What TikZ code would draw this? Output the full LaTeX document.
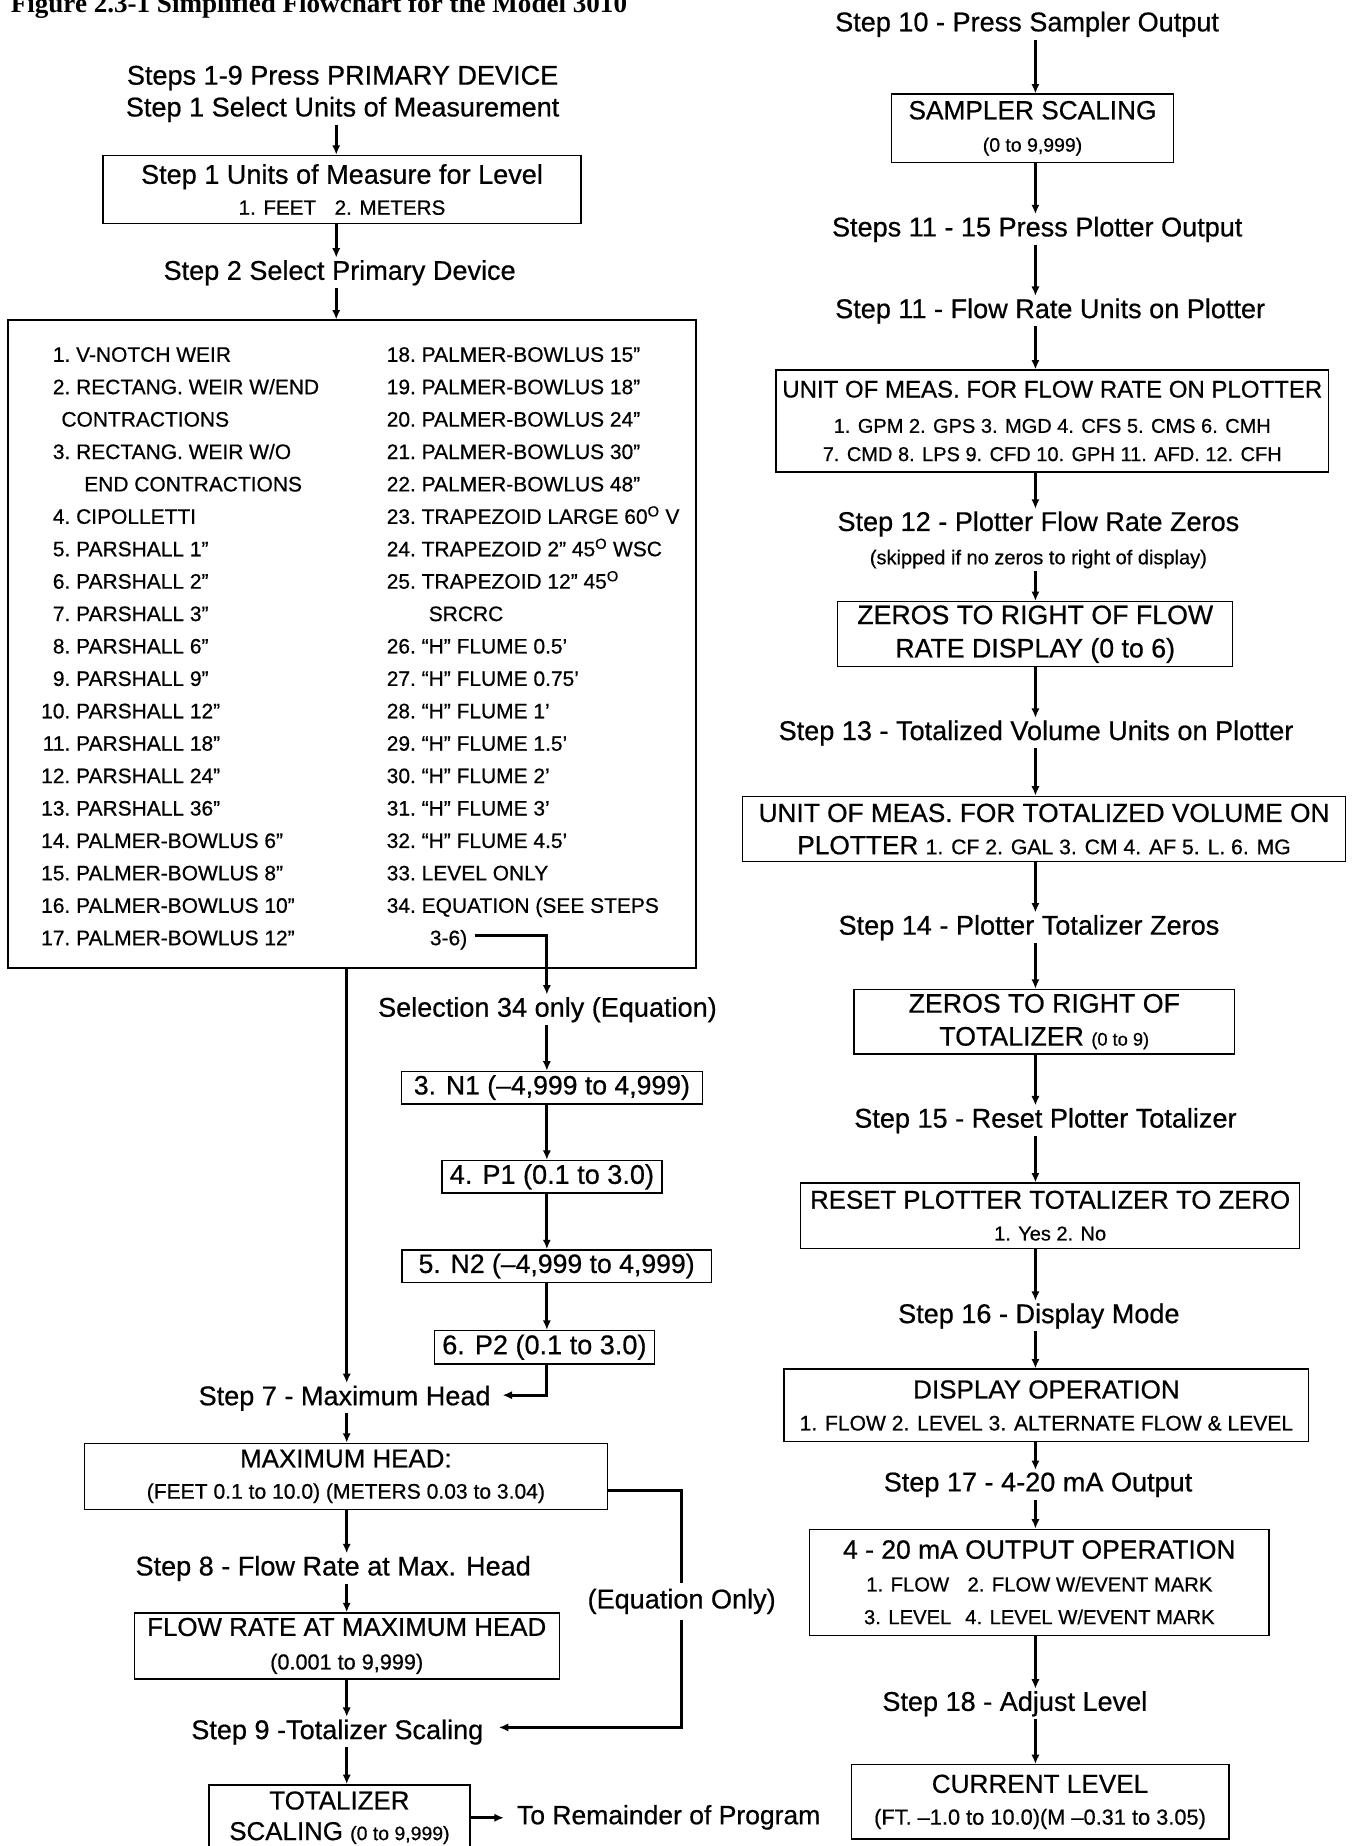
\documentclass[tikz,border=0pt]{standalone}
\usepackage{fontspec}
\setmainfont{Liberation Sans}[FakeBold=0.6]
\newfontfamily\titlefont{Liberation Serif}
\usetikzlibrary{arrows.meta}
\newcommand\myfs[2]{\fontsize{#1}{#2}\selectfont}
\newcommand\lstitem[4]{\node[itm] (#1) at (#2,{307.3+27.53*#3}) {#4};}
\tikzset{
  lbl/.style={inner sep=2pt, anchor=base, font=\myfs{23}{27}},
  bx/.style={draw, line width=1.2pt, inner sep=0pt, align=center},
  arr/.style={line width=2.6pt, -{Latex[length=8pt,width=7pt]}},
  ln/.style={line width=2.6pt},
  itm/.style={inner sep=0pt, anchor=base west, font=\myfs{17.8}{20}},
}
\begin{document}
\begin{tikzpicture}[x=1pt,y=-1pt]
\useasboundingbox (0,0) rectangle (1148,1568);
\coordinate (colL1) at (285.6,0);
\coordinate (colL2) at (294.5,0);
\coordinate (colE) at (464.5,0);
\coordinate (colR) at (879.5,0);

% ---------- title ----------
\node[anchor=base west, inner sep=0pt, font=\titlefont\bfseries\myfs{23}{27}] (title) at (9,11) {Figure 2.3-1 Simplified Flowchart for the Model 3010};

% ---------- left column ----------
\node[lbl] (s1a) at (291,71.9) {Steps 1-9 Press PRIMARY DEVICE};
\node[lbl] (s1b) at (291,98.9) {Step 1 Select Units of Measurement};
\node[bx, minimum width=406pt, minimum height=58pt, font=\myfs{17.5}{26.3}] (b1) at (290.5,161)
  {{\myfs{23}{26.3}Step 1 Units of Measure for Level}\\1. FEET\hspace{0.9em}2. METERS};
\node[lbl] (s2) at (288.5,237.7) {Step 2 Select Primary Device};
\node[draw, line width=1.3pt, minimum width=584pt, minimum height=550pt, inner sep=0pt] (bb) at (299,547) {};

\lstitem{L1}{64.5}{0}{\llap{1.\ }V-NOTCH WEIR}
\lstitem{L2}{64.5}{1}{\llap{2.\ }RECTANG. WEIR W/END}
\lstitem{L2b}{52}{2}{CONTRACTIONS}
\lstitem{L3}{64.5}{3}{\llap{3.\ }RECTANG. WEIR W/O}
\lstitem{L3b}{71.4}{4}{END CONTRACTIONS}
\lstitem{L4}{64.5}{5}{\llap{4.\ }CIPOLLETTI}
\lstitem{L5}{64.5}{6}{\llap{5.\ }PARSHALL 1''}
\lstitem{L6}{64.5}{7}{\llap{6.\ }PARSHALL 2''}
\lstitem{L7}{64.5}{8}{\llap{7.\ }PARSHALL 3''}
\lstitem{L8}{64.5}{9}{\llap{8.\ }PARSHALL 6''}
\lstitem{L9}{64.5}{10}{\llap{9.\ }PARSHALL 9''}
\lstitem{L10}{64.5}{11}{\llap{10.\ }PARSHALL 12''}
\lstitem{L11}{64.5}{12}{\llap{11.\ }PARSHALL 18''}
\lstitem{L12}{64.5}{13}{\llap{12.\ }PARSHALL 24''}
\lstitem{L13}{64.5}{14}{\llap{13.\ }PARSHALL 36''}
\lstitem{L14}{64.5}{15}{\llap{14.\ }PALMER-BOWLUS 6''}
\lstitem{L15}{64.5}{16}{\llap{15.\ }PALMER-BOWLUS 8''}
\lstitem{L16}{64.5}{17}{\llap{16.\ }PALMER-BOWLUS 10''}
\lstitem{L17}{64.5}{18}{\llap{17.\ }PALMER-BOWLUS 12''}
\lstitem{L18}{358}{0}{\llap{18.\ }PALMER-BOWLUS 15''}
\lstitem{L19}{358}{1}{\llap{19.\ }PALMER-BOWLUS 18''}
\lstitem{L20}{358}{2}{\llap{20.\ }PALMER-BOWLUS 24''}
\lstitem{L21}{358}{3}{\llap{21.\ }PALMER-BOWLUS 30''}
\lstitem{L22}{358}{4}{\llap{22.\ }PALMER-BOWLUS 48''}
\lstitem{L23}{358}{5}{\llap{23.\ }TRAPEZOID LARGE 60\textsuperscript{O} V}
\lstitem{L24}{358}{6}{\llap{24.\ }TRAPEZOID 2'' 45\textsuperscript{O} WSC}
\lstitem{L25}{358}{7}{\llap{25.\ }TRAPEZOID 12'' 45\textsuperscript{O}}
\lstitem{L25b}{364}{8}{SRCRC}
\lstitem{L26}{358}{9}{\llap{26.\ }``H'' FLUME 0.5'}
\lstitem{L27}{358}{10}{\llap{27.\ }``H'' FLUME 0.75'}
\lstitem{L28}{358}{11}{\llap{28.\ }``H'' FLUME 1'}
\lstitem{L29}{358}{12}{\llap{29.\ }``H'' FLUME 1.5'}
\lstitem{L30}{358}{13}{\llap{30.\ }``H'' FLUME 2'}
\lstitem{L31}{358}{14}{\llap{31.\ }``H'' FLUME 3'}
\lstitem{L32}{358}{15}{\llap{32.\ }``H'' FLUME 4.5'}
\lstitem{L33}{358}{16}{\llap{33.\ }LEVEL ONLY}
\lstitem{L34}{358}{17}{\llap{34.\ }EQUATION (SEE STEPS}
\lstitem{L36}{365}{18}{3-6)}

\node[lbl] (sel) at (465,863.6) {Selection 34 only (Equation)};
\node[bx, minimum width=256pt, minimum height=27.6pt, font=\myfs{22.6}{26}] (n1) at (468.8,923.8) {3. N1 (--4,999 to 4,999)};
\node[bx, minimum width=187pt, minimum height=27.8pt, font=\myfs{23}{26}] (p1) at (468.8,999.6) {4. P1 (0.1 to 3.0)};
\node[bx, minimum width=263pt, minimum height=27.5pt, font=\myfs{22.6}{26}] (n2) at (472.8,1075.4) {5. N2 (--4,999 to 4,999)};
\node[bx, minimum width=186.8pt, minimum height=28.3pt, font=\myfs{23}{26}] (p2) at (462.4,1144.3) {6. P2 (0.1 to 3.0)};

\node[lbl] (s7) at (292.7,1193.6) {Step 7 - Maximum Head};
\node[bx, minimum width=444.5pt, minimum height=56pt, font=\myfs{17.9}{26.5}] (maxhead) at (293.8,1254)
  {{\myfs{22}{26.5}MAXIMUM HEAD:}\\(FEET 0.1 to 10.0) (METERS 0.03 to 3.04)};
\node[lbl] (s8) at (283,1338.2) {Step 8 - Flow Rate at Max. Head};
\node[bx, minimum width=361pt, minimum height=56pt, font=\myfs{18.4}{28.5}] (flowrate) at (294.5,1398)
  {{\myfs{22}{28.5}FLOW RATE AT MAXIMUM HEAD}\\(0.001 to 9,999)};
\node[lbl] (s9) at (286.5,1477.2) {Step 9 -Totalizer Scaling};
\node[bx, minimum width=221.5pt, minimum height=56pt, font=\myfs{22}{26}] (tot) at (288.3,1544)
  {TOTALIZER\\SCALING {\myfs{16.5}{26}(0 to 9,999)}};
\node[lbl, anchor=base west, inner xsep=11pt, font=\myfs{22.5}{27}] (rem) at (428,1549.5) {To Remainder of Program};
\node[lbl, inner ysep=5pt] (eq) at (579,1366.2) {(Equation Only)};

% left connectors
\draw[arr] (s1b.south -| colL1) -- (b1.north -| colL1);
\draw[arr] (b1.south -| colL1) -- (s2.north -| colL1);
\draw[arr] (s2.south -| colL1) -- (bb.north -| colL1);
\draw[arr] ([xshift=6pt,yshift=4pt]L36.east) -| (sel.north -| colE);
\draw[arr] (sel.south -| colE) -- (n1.north -| colE);
\draw[arr] (n1.south -| colE) -- (p1.north -| colE);
\draw[arr] (p1.south -| colE) -- (n2.north -| colE);
\draw[arr] (n2.south -| colE) -- (p2.north -| colE);
\draw[arr] (p2.south -| colE) |- ([xshift=8pt,yshift=2.6pt]s7.east);
\draw[arr] (bb.south -| colL2) -- (s7.north -| colL2);
\draw[arr] (s7.south -| colL2) -- (maxhead.north -| colL2);
\draw[arr] (maxhead.south -| colL2) -- (s8.north -| colL2);
\draw[arr] (s8.south -| colL2) -- (flowrate.north -| colL2);
\draw[arr] (flowrate.south -| colL2) -- (s9.north -| colL2);
\draw[arr] (s9.south -| colL2) -- (tot.north -| colL2);
\draw[arr] (tot.east) -- (tot.east -| rem.west);
\draw[ln] ([yshift=-12pt]maxhead.east) -| (eq.north);
\draw[arr] (eq.south) |- ([xshift=11pt,yshift=4pt]s9.east);

% ---------- right column ----------
\node[lbl] (s10) at (872.4,26.6) {Step 10 - Press Sampler Output};
\node[bx, minimum width=240pt, minimum height=58pt, font=\myfs{16.5}{27.5}] (sampler) at (877,109)
  {{\myfs{22.3}{27.5}SAMPLER SCALING}\\(0 to 9,999)};
\node[lbl] (s11a) at (881,200.8) {Steps 11 - 15 Press Plotter Output};
\node[lbl] (s11b) at (892,270.2) {Step 11 - Flow Rate Units on Plotter};
\node[bx, minimum width=469.6pt, minimum height=86.4pt, font=\myfs{17}{24}] (unitflow) at (893.8,357.6)
  {{\myfs{20.4}{24}UNIT OF MEAS. FOR FLOW RATE ON PLOTTER}\\[6pt]1. GPM 2. GPS 3. MGD 4. CFS 5. CMS 6. CMH\\7. CMD 8. LPS 9. CFD 10. GPH 11. AFD. 12. CFH};
\node[lbl] (s12a) at (882,451) {Step 12 - Plotter Flow Rate Zeros};
\node[lbl, font=\myfs{17}{20}] (s12b) at (882,479.3) {(skipped if no zeros to right of display)};
\node[bx, minimum width=335.5pt, minimum height=55.3pt, font=\myfs{22.7}{28.3}] (zflow) at (879.3,538.7)
  {ZEROS TO RIGHT OF FLOW\\RATE DISPLAY (0 to 6)};
\node[lbl] (s13) at (880,628.6) {Step 13 - Totalized Volume Units on Plotter};
\node[bx, minimum width=512.4pt, minimum height=55.6pt, font=\myfs{22.3}{27.4}] (uvol) at (886.8,704.2)
  {UNIT OF MEAS. FOR TOTALIZED VOLUME ON\\PLOTTER {\myfs{18}{27.4}1. CF 2. GAL 3. CM 4. AF 5. L. 6. MG}};
\node[lbl] (s14) at (874,793.9) {Step 14 - Plotter Totalizer Zeros};
\node[bx, minimum width=323pt, minimum height=54.7pt, font=\myfs{22.7}{28}] (ztot) at (887,867.8)
  {ZEROS TO RIGHT OF\\TOTALIZER {\myfs{15.5}{28}(0 to 9)}};
\node[lbl] (s15) at (888,957.8) {Step 15 - Reset Plotter Totalizer};
\node[bx, minimum width=424pt, minimum height=55.3pt, font=\myfs{17}{27}] (reset) at (892,1032.6)
  {{\myfs{21.9}{27}RESET PLOTTER TOTALIZER TO ZERO}\\1. Yes 2. No};
\node[lbl] (s16) at (882.4,1123.8) {Step 16 - Display Mode};
\node[bx, minimum width=445.5pt, minimum height=61.7pt, font=\myfs{17.9}{27.2}] (display) at (888.8,1193.8)
  {{\myfs{22.1}{27.2}DISPLAY OPERATION}\\1. FLOW 2. LEVEL 3. ALTERNATE FLOW \& LEVEL};
\node[lbl] (s17) at (881.7,1266.8) {Step 17 - 4-20 mA Output};
\node[bx, minimum width=390pt, minimum height=90pt, font=\myfs{17.2}{27.8}] (output) at (882.8,1344)
  {{\myfs{22.5}{27.8}4 - 20 mA OUTPUT OPERATION}\\\makebox[86pt][l]{1. FLOW}2. FLOW W/EVENT MARK\\\makebox[86pt][l]{3. LEVEL}4. LEVEL W/EVENT MARK};
\node[lbl] (s18) at (862,1453.2) {Step 18 - Adjust Level};
\node[bx, minimum width=320.7pt, minimum height=63pt, font=\myfs{18.5}{27}] (current) at (883.4,1530.5)
  {{\myfs{22.2}{27}CURRENT LEVEL}\\(FT. --1.0 to 10.0)(M --0.31 to 3.05)};

% right connectors
\draw[arr] (s10.south -| colR) -- (sampler.north -| colR);
\draw[arr] (sampler.south -| colR) -- (s11a.north -| colR);
\draw[arr] (s11a.south -| colR) -- (s11b.north -| colR);
\draw[arr] (s11b.south -| colR) -- (unitflow.north -| colR);
\draw[arr] (unitflow.south -| colR) -- (s12a.north -| colR);
\draw[arr] (s12b.south -| colR) -- (zflow.north -| colR);
\draw[arr] (zflow.south -| colR) -- (s13.north -| colR);
\draw[arr] (s13.south -| colR) -- (uvol.north -| colR);
\draw[arr] (uvol.south -| colR) -- (s14.north -| colR);
\draw[arr] (s14.south -| colR) -- (ztot.north -| colR);
\draw[arr] (ztot.south -| colR) -- (s15.north -| colR);
\draw[arr] (s15.south -| colR) -- (reset.north -| colR);
\draw[arr] (reset.south -| colR) -- (s16.north -| colR);
\draw[arr] (s16.south -| colR) -- (display.north -| colR);
\draw[arr] (display.south -| colR) -- (s17.north -| colR);
\draw[arr] (s17.south -| colR) -- (output.north -| colR);
\draw[arr] (output.south -| colR) -- (s18.north -| colR);
\draw[arr] (s18.south -| colR) -- (current.north -| colR);
\end{tikzpicture}
\end{document}
